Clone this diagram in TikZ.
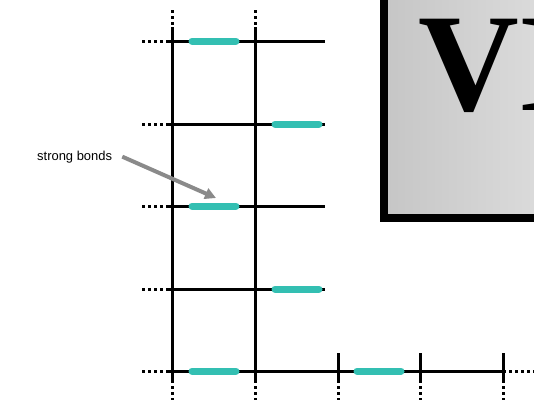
\documentclass[tikz,border=0pt]{standalone}
\usepackage{fontspec}
\setmainfont{Liberation Serif}
\newfontfamily\labelfont{Liberation Sans}
\usetikzlibrary{arrows.meta}
\definecolor{bondteal}{HTML}{33BFB2}
\definecolor{arrowgray}{HTML}{8A8A8A}
\begin{document}
\begin{tikzpicture}[x=1bp,y=-1bp,
  lattice/.style={line width=3bp,black},
  latdots/.style={line width=3bp,black,dash pattern=on 3bp off 3bp},
  bond/.style={line width=7bp,bondteal,line cap=round}]
  \useasboundingbox (0,0) rectangle (534,403);
  \clip (0,0) rectangle (534,403);
  % layer box in the corner
  \draw[line width=8bp,left color=gray!45,right color=gray!25] (384,-20) rectangle (570,218);
  \node[anchor=base west,inner sep=0pt,font=\bfseries\fontsize{140}{140}\selectfont] (layer) at (418,110) {VI};
  % rows of the lattice
  \foreach \y in {41,124,206,289} {
    \draw[latdots] (142,\y) -- (167,\y);
    \draw[lattice] (167,\y) -- (325,\y);
  }
  \draw[latdots] (142,371) -- (167,371);
  \draw[lattice] (167,371) -- (503,371);
  \draw[latdots] (503,371) -- (534,371);
  % columns
  \foreach \x in {172,255} {
    \draw[latdots] (\x,10) -- (\x,27);
    \draw[lattice] (\x,27) -- (\x,380);
    \draw[latdots] (\x,380) -- (\x,400);
  }
  \foreach \x in {338,420,503} {
    \draw[lattice] (\x,353) -- (\x,380);
    \draw[latdots] (\x,380) -- (\x,400);
  }
  % strong bonds
  \foreach \x/\y in {192/41,275/124,192/206,275/289,192/371,357/371}
    \draw[bond] (\x,\y) -- ++(44,0);
  \node[font=\labelfont\fontsize{13}{13}\selectfont,inner sep=0pt,anchor=base west] (strong) at (37,160) {strong bonds};
  \coordinate (bondtip) at (216,198);
  \draw[arrowgray,line width=4bp,-{Triangle[length=11bp,width=11bp]}] ([xshift=10bp]strong.east) -- (bondtip);
\end{tikzpicture}
\end{document}
